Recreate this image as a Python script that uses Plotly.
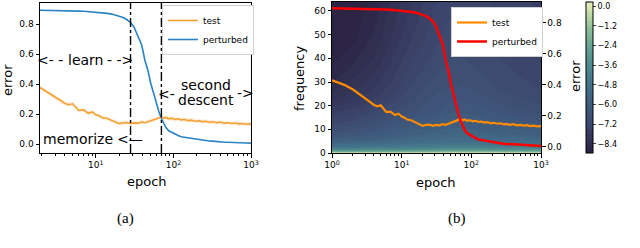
import plotly.graph_objects as go

# ---------------- data ----------------
epochs = [1, 1.5, 2, 2.5, 3, 3.5, 4, 4.5, 5, 5.5, 6, 7, 8, 9, 10, 11, 12, 14, 16, 18,
          20, 22, 25, 28, 31, 35, 39, 43, 47, 51, 55, 60, 65, 70, 75, 80, 87, 95, 105, 115,
          125, 140, 155, 170, 190, 210, 235, 260, 290, 320, 360, 400, 450, 500, 560, 630,
          700, 780, 870, 1000]
test_err = [0.43, 0.40, 0.37, 0.34, 0.31, 0.29, 0.27, 0.262, 0.268, 0.245, 0.225, 0.226, 0.205, 0.214,
            0.195, 0.188, 0.176, 0.170, 0.155, 0.146, 0.135, 0.141, 0.143, 0.136, 0.141, 0.139,
            0.146, 0.142, 0.150, 0.154, 0.160, 0.168, 0.174, 0.180, 0.171, 0.177, 0.168, 0.172,
            0.164, 0.168, 0.161, 0.163, 0.156, 0.159, 0.152, 0.155, 0.149, 0.152, 0.145, 0.148,
            0.142, 0.146, 0.139, 0.142, 0.137, 0.140, 0.134, 0.137, 0.132, 0.134]
perturbed_err = [0.895, 0.894, 0.893, 0.892, 0.891, 0.890, 0.889, 0.888, 0.888, 0.887, 0.886, 0.885,
                 0.883, 0.882, 0.880, 0.878, 0.876, 0.871, 0.866, 0.860, 0.853, 0.845, 0.830, 0.810,
                 0.780, 0.720, 0.660, 0.555, 0.490, 0.405, 0.345, 0.265, 0.215, 0.170, 0.135, 0.110,
                 0.088, 0.078, 0.062, 0.057, 0.048, 0.044, 0.038, 0.036, 0.030, 0.030, 0.025, 0.023,
                 0.020, 0.019, 0.015, 0.015, 0.012, 0.012, 0.010, 0.010, 0.008, 0.008, 0.007, 0.006]
phase_lines = [28, 70]

hm_epoch = [1, 2, 4, 8, 15, 30, 50, 80, 150, 300, 600, 1000]
hm_freq = [0, 0.7, 1.5, 3, 5, 8, 12, 17, 23, 30, 38, 47, 56, 64]
hm_z = [
    [-0.4, -0.4, -0.4, -0.3, -0.3, -0.2, -0.2, -0.2, -0.2, -0.2, -0.3, -0.3],
    [-2.6, -2.6, -2.5, -2.5, -2.4, -2.3, -2.2, -2.2, -2.2, -2.3, -2.3, -2.4],
    [-3.8, -3.8, -3.7, -3.6, -3.5, -3.4, -3.3, -3.3, -3.3, -3.4, -3.4, -3.5],
    [-5.0, -4.9, -4.8, -4.7, -4.6, -4.5, -4.4, -4.4, -4.4, -4.5, -4.5, -4.6],
    [-5.8, -5.7, -5.6, -5.4, -5.3, -5.2, -5.1, -5.1, -5.1, -5.2, -5.2, -5.3],
    [-6.5, -6.4, -6.2, -6.0, -5.8, -5.6, -5.5, -5.5, -5.6, -5.7, -5.8, -5.9],
    [-7.1, -6.9, -6.7, -6.4, -6.2, -6.0, -5.9, -5.9, -6.0, -6.1, -6.2, -6.3],
    [-7.6, -7.4, -7.1, -6.8, -6.6, -6.4, -6.2, -6.2, -6.3, -6.5, -6.6, -6.7],
    [-8.1, -7.9, -7.6, -7.2, -6.9, -6.6, -6.5, -6.5, -6.6, -6.8, -6.9, -7.0],
    [-8.5, -8.2, -7.9, -7.5, -7.1, -6.8, -6.7, -6.7, -6.8, -7.0, -7.1, -7.2],
    [-8.75, -8.5, -8.2, -7.7, -7.3, -7.0, -6.85, -6.85, -7.0, -7.1, -7.2, -7.35],
    [-8.9, -8.75, -8.4, -7.9, -7.5, -7.15, -7.0, -7.0, -7.1, -7.25, -7.35, -7.45],
    [-8.95, -8.85, -8.55, -8.05, -7.65, -7.25, -7.1, -7.1, -7.2, -7.35, -7.45, -7.55],
    [-8.95, -8.9, -8.65, -8.15, -7.75, -7.35, -7.2, -7.2, -7.3, -7.45, -7.55, -7.6],
]

err_ticks = [0.0, 0.2, 0.4, 0.6, 0.8]
freq_ticks = [0, 10, 20, 30, 40, 50, 60]
cbar_ticks = [0.0, -1.2, -2.4, -3.6, -4.8, -6.0, -7.2, -8.4]
decades = [1, 10, 100, 1000]
decade_labels = ["10<sup>0</sup>", "10<sup>1</sup>", "10<sup>2</sup>", "10<sup>3</sup>"]

# ---------------- layout helpers ----------------
W, H = 640, 248
def px(x):
    return x / W
def py(y):
    return 1 - y / H

FONT = "DejaVu Sans"
tickfont = dict(family=FONT, size=9, color="black")

deep_scale = [[0, '#2a2340'], [0.06, '#302d50'], [0.19, '#3c466c'], [0.32, '#3f5b7e'],
              [0.45, '#437189'], [0.58, '#4c878e'], [0.71, '#62a090'], [0.84, '#8dbd98'],
              [0.973, '#cfe2ac'], [1, '#e0ebba']]

fig = go.Figure()

# ---- panel (a) ----
fig.add_trace(go.Scatter(x=epochs, y=test_err, mode="lines", xaxis="x", yaxis="y",
                         line=dict(color="#f5a33b", width=4), opacity=0.15,
                         showlegend=False, hoverinfo="skip"))
fig.add_trace(go.Scatter(x=epochs, y=test_err, mode="lines", name="test", xaxis="x", yaxis="y",
                         line=dict(color="#f5a033", width=1.6), legend="legend"))
fig.add_trace(go.Scatter(x=epochs, y=perturbed_err, mode="lines", name="perturbed",
                         xaxis="x", yaxis="y",
                         line=dict(color="#2a84c4", width=1.6), legend="legend"))
for e in phase_lines:
    fig.add_trace(go.Scatter(x=[e, e], y=[-0.06, 0.94], mode="lines", xaxis="x", yaxis="y",
                             line=dict(color="black", width=1.4, dash="dashdot"),
                             showlegend=False, hoverinfo="skip"))

# ---- panel (b) ----
fig.add_trace(go.Contour(x=hm_epoch, y=hm_freq, z=hm_z, xaxis="x2", yaxis="y2",
                         colorscale=deep_scale, zmin=-8.95, zmax=0.25,
                         contours=dict(start=-8.95, end=0.25, size=0.23, coloring="fill"),
                         line=dict(width=0), showscale=True, hoverinfo="skip",
                         colorbar=dict(x=px(586), xanchor="left", xpad=0,
                                       y=py(2), yanchor="top", ypad=0,
                                       len=151, lenmode="pixels", thickness=7,
                                       outlinewidth=1, outlinecolor="black",
                                       tickvals=cbar_ticks, tickformat=".1f",
                                       ticks="outside", ticklen=3,
                                       tickfont=dict(family=FONT, size=8, color="black"))))
fig.add_trace(go.Scatter(x=epochs, y=test_err, mode="lines", name="test", xaxis="x2", yaxis="y3",
                         line=dict(color="#ff8c00", width=2.2), legend="legend2"))
fig.add_trace(go.Scatter(x=epochs, y=perturbed_err, mode="lines", name="perturbed",
                         xaxis="x2", yaxis="y3",
                         line=dict(color="#ff0000", width=2.5), legend="legend2"))

axis_common = dict(showgrid=False, zeroline=False, showline=True, linecolor="black",
                   linewidth=1, ticks="outside", ticklen=3.5, tickcolor="black",
                   tickfont=tickfont, automargin=False)

minor = dict(ticks="outside", ticklen=2, tickcolor="black", dtick="D1", showgrid=False)

fig.update_layout(
    width=W, height=H, margin=dict(l=0, r=0, t=0, b=0),
    paper_bgcolor="white", plot_bgcolor="white",
    font=dict(family=FONT, color="black"),
    xaxis=dict(type="log", domain=[px(40), px(251)], range=[0.28, 3.0], anchor="y",
               tickvals=decades, ticktext=decade_labels, mirror=True, minor=minor,
               **axis_common),
    yaxis=dict(domain=[py(153), py(3)], range=[-0.06, 0.94], anchor="x",
               tickvals=err_ticks, tickformat=".1f", mirror=True, **axis_common),
    xaxis2=dict(type="log", domain=[px(332), px(541)], range=[0, 3.0], anchor="y2",
                tickvals=decades, ticktext=decade_labels, mirror=True, minor=minor,
                **axis_common),
    yaxis2=dict(domain=[py(153), py(2)], range=[0, 63.8], anchor="x2",
                tickvals=freq_ticks, mirror=True, **axis_common),
    yaxis3=dict(overlaying="y2", side="right", anchor="x2", range=[-0.04, 0.935],
                tickvals=err_ticks, tickformat=".1f", **axis_common),
    legend=dict(x=px(162), y=py(5), xanchor="left", yanchor="top",
                bgcolor="white", bordercolor="#d0d0d0", borderwidth=1,
                font=dict(family=FONT, size=9, color="black"),
                tracegroupgap=0, itemwidth=30),
    legend2=dict(x=px(451), y=py(7), xanchor="left", yanchor="top",
                 bgcolor="white", bordercolor="#d0d0d0", borderwidth=1,
                 font=dict(family=FONT, size=9, color="black"),
                 tracegroupgap=0, itemwidth=30),
    showlegend=True,
)

ann_font = dict(family=FONT, size=14, color="black")
label_font = dict(family=FONT, size=13, color="black")
anns = [
    dict(x=px(8), y=py(80), text="error", textangle=-90, font=label_font),
    dict(x=px(147), y=py(181), text="epoch", font=label_font),
    dict(x=px(300), y=py(78), text="frequency", textangle=-90, font=label_font),
    dict(x=px(576), y=py(76), text="error", textangle=-90, font=label_font),
    dict(x=px(436), y=py(182), text="epoch", font=label_font),
    dict(x=px(125), y=py(218), text="(a)",
         font=dict(family="Liberation Serif", size=15, color="black")),
    dict(x=px(457), y=py(218), text="(b)",
         font=dict(family="Liberation Serif", size=15, color="black")),
    dict(x=px(50), y=py(60), text="&lt;- -", font=ann_font),
    dict(x=px(85), y=py(60), text="learn", font=ann_font),
    dict(x=px(120), y=py(60), text="- -&gt;", font=ann_font),
    dict(x=px(206), y=py(85), text="second", font=ann_font),
    dict(x=px(206), y=py(100), text="descent", font=ann_font),
    dict(x=px(166), y=py(94), text="&lt;-", font=ann_font),
    dict(x=px(245), y=py(93), text="-&gt;", font=ann_font),
    dict(x=px(78), y=py(139), text="memorize", font=ann_font),
    dict(x=px(130), y=py(139), text="&lt;—", font=ann_font),
]
for a in anns:
    a.update(xref="paper", yref="paper", showarrow=False, xanchor="center", yanchor="middle")
fig.update_layout(annotations=anns)

fig.write_html("out.html", config={"displayModeBar": False},
               post_script="document.body.style.margin='0';")
